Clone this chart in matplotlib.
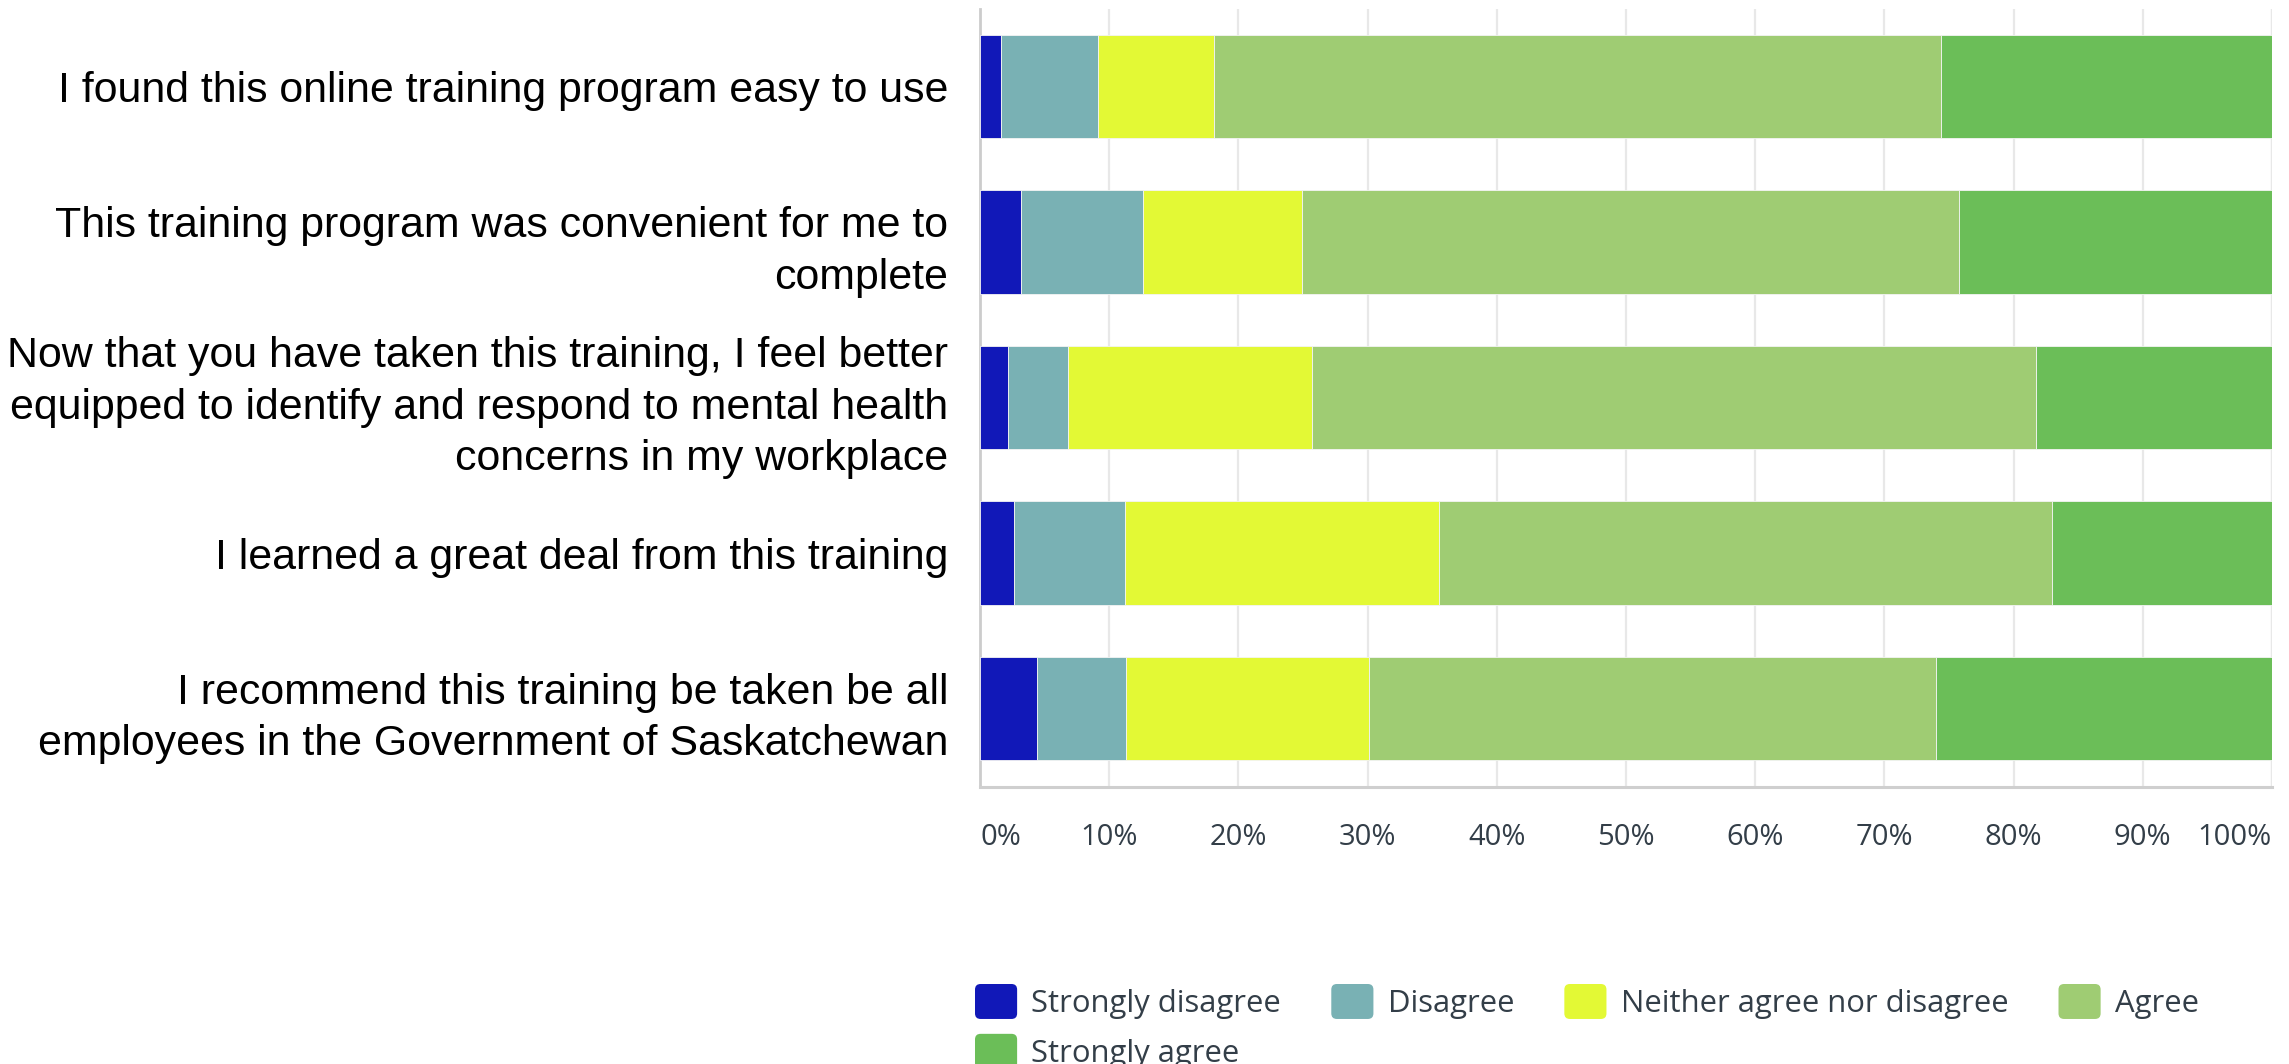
import matplotlib
matplotlib.use("Agg")
import matplotlib.pyplot as plt
import numpy as np
from matplotlib.patches import FancyBboxPatch, Patch
from matplotlib.legend_handler import HandlerPatch

categories = [
    "I found this online training program easy to use",
    "This training program was convenient for me to\ncomplete",
    "Now that you have taken this training, I feel better\nequipped to identify and respond to mental health\nconcerns in my workplace",
    "I learned a great deal from this training",
    "I recommend this training be taken be all\nemployees in the Government of Saskatchewan",
]
series_names = ["Strongly disagree", "Disagree", "Neither agree nor disagree", "Agree", "Strongly agree"]
strongly_disagree = [1.6, 3.2, 2.2, 2.6, 4.4]
disagree = [7.5, 9.4, 4.6, 8.6, 6.9]
neither = [9.0, 12.3, 18.9, 24.3, 18.8]
agree = [56.3, 50.9, 56.0, 47.5, 43.9]
strongly_agree = [25.6, 24.2, 18.3, 17.0, 26.0]
x_ticks = [0, 10, 20, 30, 40, 50, 60, 70, 80, 90, 100]
x_tick_labels = ["0%", "10%", "20%", "30%", "40%", "50%", "60%", "70%", "80%", "90%", "100%"]

colors = ["#1118B8", "#79B1B4", "#E3F935", "#9FCC73", "#6BBE58"]
text_gray = "#333E48"

fig = plt.figure(figsize=(22.89, 10.64), dpi=100)
ax = fig.add_axes([980/2289, 1-787.3/1064, (2272-980)/2289, (787.3-9.3)/1064])

series = [strongly_disagree, disagree, neither, agree, strongly_agree]
y = np.arange(len(categories))
left = np.zeros(len(categories))
handles = []
for name, vals, c in zip(series_names, series, colors):
    vals = np.array(vals)
    ax.barh(y, vals, left=left, height=0.664, color=c, edgecolor="#f4f4f4",
            linewidth=0.6, zorder=3, label=name)
    left += vals
    handles.append(Patch(facecolor=c, label=name))

ax.set_xlim(0, 100)
ax.set_ylim(4.506, -0.495)
ax.set_yticks(y)
ax.set_yticklabels(categories, fontsize=30.9, family="Liberation Sans", color="black",
                   ha="right", linespacing=1.36)
ax.tick_params(axis="y", length=0, pad=23)
ax.set_xticks(x_ticks)
ax.set_xticklabels(x_tick_labels, fontsize=21, family="Open Sans", color=text_gray)
ax.tick_params(axis="x", length=0, pad=26)
labs = ax.get_xticklabels()
labs[0].set_ha("left")
labs[-1].set_ha("right")

ax.grid(axis="x", color="#e8e8e8", linewidth=1.6, zorder=0)
ax.grid(axis="y", visible=False)
for s in ["top", "right"]:
    ax.spines[s].set_visible(False)
ax.spines["left"].set_color("#cccccc")
ax.spines["left"].set_linewidth(2)
ax.spines["bottom"].set_color("#cfcfcf")
ax.spines["bottom"].set_linewidth(2.2)
ax.axvline(100, color="#e8e8e8", linewidth=1.6, zorder=0)


class RoundHandler(HandlerPatch):
    def create_artists(self, legend, orig_handle, xdescent, ydescent, width, height, fontsize, trans):
        p = FancyBboxPatch((-xdescent + 1.5, -ydescent + 1.5), width - 3, height - 3,
                           boxstyle="round,pad=1.5,rounding_size=4",
                           facecolor=orig_handle.get_facecolor(), edgecolor="none",
                           transform=trans)
        return [p]


order = [0, 4, 1, 2, 3]
leg = fig.legend([handles[i] for i in order], [series_names[i] for i in order],
                 loc="upper left", bbox_to_anchor=(975/2289, 1-984/1064), ncol=4,
                 frameon=False, borderpad=0, borderaxespad=0,
                 prop={"family": "Open Sans", "size": 22.3},
                 handlelength=1.36, handleheight=1.36, handletextpad=0.46,
                 columnspacing=1.62, labelspacing=0.48,
                 handler_map={Patch: RoundHandler()})
for t in leg.get_texts():
    t.set_color(text_gray)

fig.savefig("out.png", dpi=100)
